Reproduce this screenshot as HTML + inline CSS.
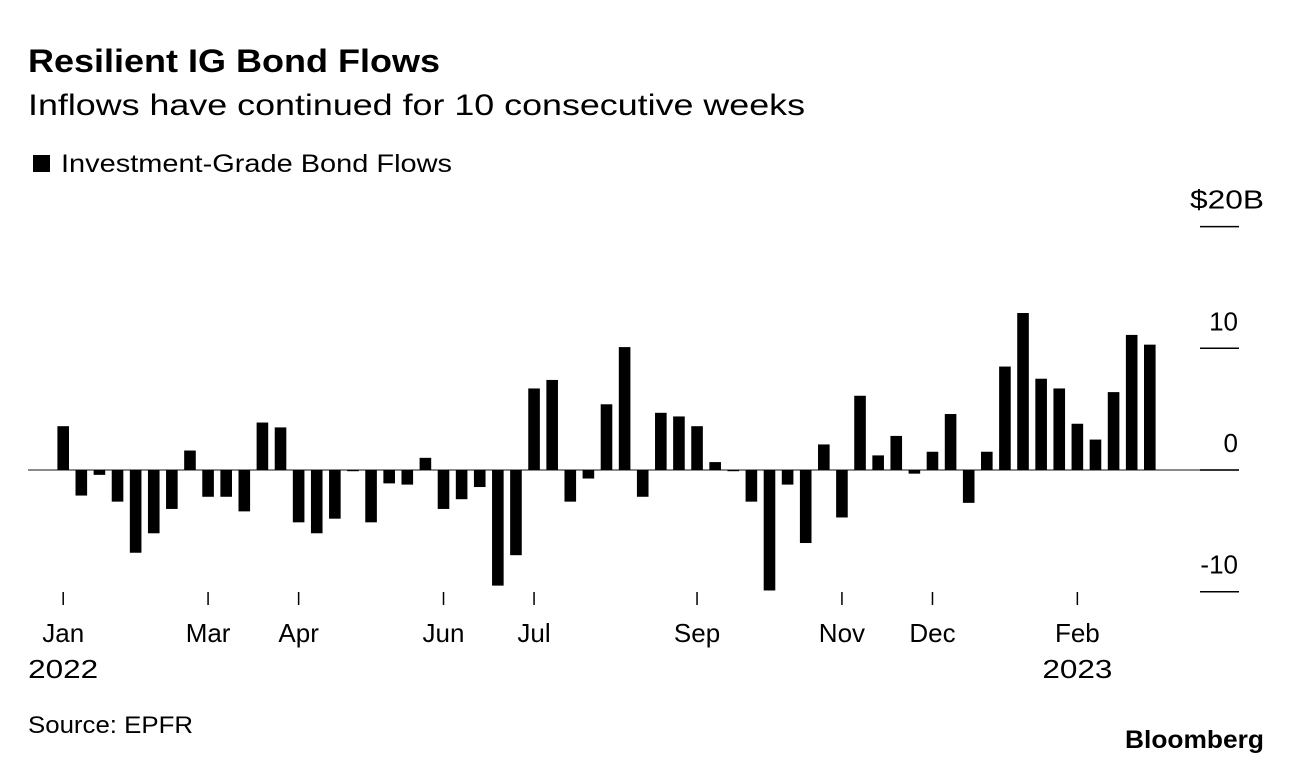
<!DOCTYPE html>
<html><head><meta charset="utf-8"><style>
body{margin:0;background:#fff;width:1292px;height:764px;overflow:hidden;font-family:"Liberation Sans",Arial,sans-serif;color:#000}
svg{position:absolute;left:0;top:0}
</style></head><body>
<svg width="1292" height="764">
<text x="28" y="72" font-size="32" font-weight="bold" textLength="412" lengthAdjust="spacingAndGlyphs">Resilient IG Bond Flows</text>
<text x="28" y="115" font-size="30" textLength="777" lengthAdjust="spacingAndGlyphs">Inflows have continued for 10 consecutive weeks</text>
<rect x="33" y="155" width="17" height="17" fill="#000"/>
<text x="61" y="172" font-size="25" textLength="391" lengthAdjust="spacingAndGlyphs">Investment-Grade Bond Flows</text>
<g id="plot"></g>
<text x="28" y="733" font-size="24" textLength="165" lengthAdjust="spacingAndGlyphs">Source: EPFR</text>
<text x="1125" y="748" font-size="25" font-weight="bold" textLength="139" lengthAdjust="spacingAndGlyphs">Bloomberg</text>
</svg>
<script>
const values=[3.6,-2.1,-0.4,-2.6,-6.8,-5.2,-3.2,1.6,-2.2,-2.2,-3.4,3.9,3.5,-4.3,-5.2,-4.0,-0.1,-4.3,-1.1,-1.2,1.0,-3.2,-2.4,-1.4,-9.5,-7.0,6.7,7.4,-2.6,-0.7,5.4,10.1,-2.2,4.7,4.4,3.6,0.65,-0.1,-2.6,-9.9,-1.2,-6.0,2.1,-3.9,6.1,1.2,2.8,-0.3,1.5,4.6,-2.7,1.5,8.5,12.9,7.5,6.7,3.8,2.5,6.4,11.1,10.3];
const monthTickIdx=[0,8,13,21,26,35,43,48,56];
const monthLabels=["Jan","Mar","Apr","Jun","Jul","Sep","Nov","Dec","Feb"];
const yearLabels=[[0,"2022"],[56,"2023"]];
const yTicks=[20,10,0,-10];
const yTickLabels=["$20B","10","0","-10"];
const NS="http://www.w3.org/2000/svg";
const g=document.getElementById('plot');
const x=i=>63.2+i*18.11;
const y=v=>470-v*12.17;
function mk(t,a){const e=document.createElementNS(NS,t);for(const k in a)e.setAttribute(k,a[k]);g.appendChild(e);return e;}
const base=mk('line',{x1:28,x2:1239,y1:y(0),y2:y(0),stroke:'#444','stroke-width':1.2});


yTicks.forEach((t,k)=>{
  const l=mk('line',{x1:1200,x2:1239,y1:y(t),y2:y(t),stroke:'#000','stroke-width':1.5});
  
  
  const isTop=k===0;
  const attrs={x:isTop?1264:1238,y:y(t)-18,'font-size':26,'text-anchor':'end'};
  if(isTop){attrs.textLength=74;attrs.lengthAdjust='spacingAndGlyphs';}
  const tx=mk('text',attrs);
  tx.textContent=yTickLabels[k];
  
  
});
values.forEach((v,i)=>{
  const r=mk('rect',{x:x(i)-5.8,width:11.6,y:Math.min(y(v),y(0)),height:Math.abs(y(v)-y(0)),fill:'#000'});
  
  
});
monthTickIdx.forEach((idx,k)=>{
  const l=mk('line',{x1:x(idx),x2:x(idx),y1:592,y2:605,stroke:'#000','stroke-width':1.5});
  
  
  const t=mk('text',{x:x(idx),y:642,'font-size':26,'text-anchor':'middle'});
  t.textContent=monthLabels[k];
  
  
});
yearLabels.forEach(([idx,lab])=>{
  const t=mk('text',{x:x(idx),y:678,'font-size':26,'text-anchor':'middle','textLength':70,'lengthAdjust':'spacingAndGlyphs'});
  t.textContent=lab;
  
  
});
</script>
</body></html>
